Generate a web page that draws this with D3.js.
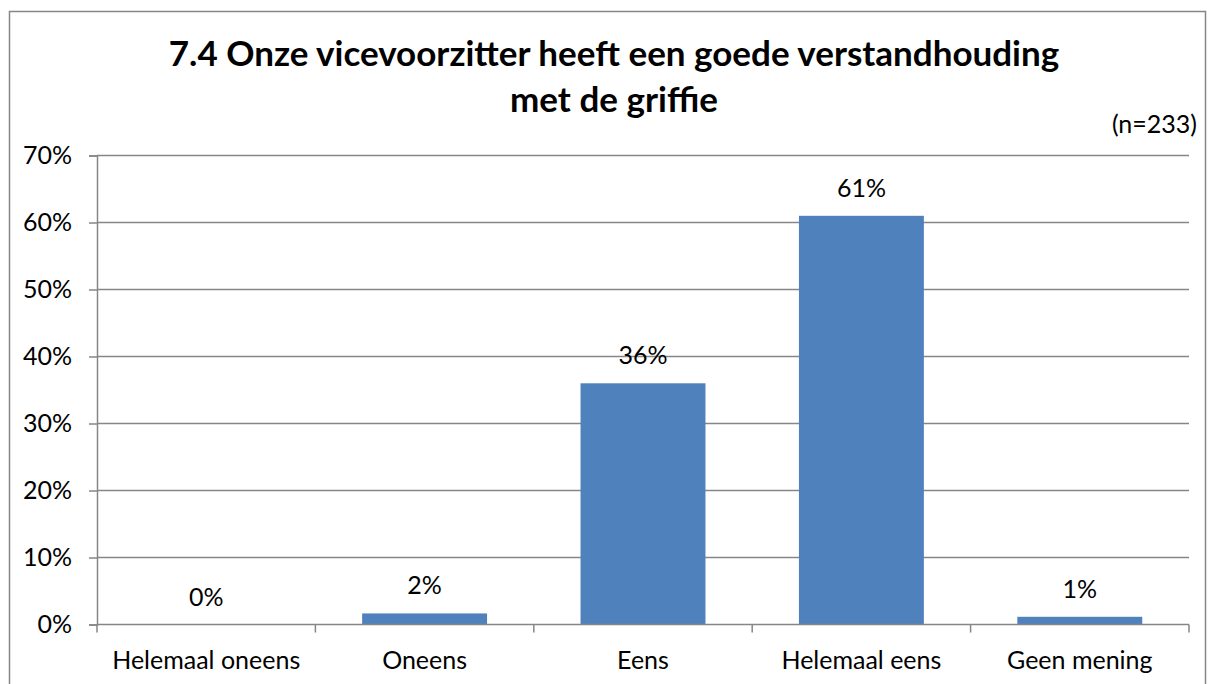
<!DOCTYPE html>
<html>
<head>
<meta charset="utf-8">
<script src="https://cdn.jsdelivr.net/npm/d3@7"></script>
<style>
  body { margin: 0; background: #fff; }
  text { font-family: Lato, "Open Sans", sans-serif; fill: #000; }
</style>
</head>
<body>
<svg width="1215" height="684"></svg>
<script>
// data
var categories = ['Helemaal oneens', 'Oneens', 'Eens', 'Helemaal eens', 'Geen mening'];
var values = [0, 0.0165, 0.36, 0.61, 0.0115];
var valueLabels = ['0%', '2%', '36%', '61%', '1%'];
var yTicks = [0, 0.1, 0.2, 0.3, 0.4, 0.5, 0.6, 0.7];
var titleLines = ['7.4 Onze vicevoorzitter heeft een goede verstandhouding', 'met de griffie'];
var note = '(n=233)';

var svg = d3.select('svg');
var plotL = 97, plotR = 1189, plotT = 155.5, plotB = 624.5;

// chart border
svg.append('rect').attr('x', 9.5).attr('y', 11.5).attr('width', 1196).attr('height', 690)
  .attr('fill', 'none').attr('stroke', '#868686').attr('stroke-width', 1.5);

var x = d3.scaleBand().domain(categories).range([plotL, plotR])
  .paddingInner(0.428).paddingOuter(0.214);
var xb = d3.scaleBand().domain(categories).range([plotL, plotR]).padding(0);
var y = d3.scaleLinear().domain([0, 0.7]).range([plotB, plotT]);

// gridlines
svg.append('g').selectAll('line').data(yTicks.slice(1)).join('line')
  .attr('x1', plotL).attr('x2', plotR)
  .attr('y1', function (d) { return y(d); }).attr('y2', function (d) { return y(d); })
  .attr('stroke', '#868686').attr('stroke-width', 1.5);

// bars
svg.append('g').selectAll('rect').data(values).join('rect')
  .attr('x', function (d, i) { return x(categories[i]); })
  .attr('y', function (d) { return y(d); })
  .attr('width', x.bandwidth())
  .attr('height', function (d) { return plotB - y(d); })
  .attr('fill', '#4F81BD');

// value labels
svg.append('g').selectAll('text').data(values).join('text')
  .attr('x', function (d, i) { return x(categories[i]) + x.bandwidth() / 2; })
  .attr('y', function (d) { return y(d) - 19; })
  .attr('text-anchor', 'middle').style('font-size', '25px')
  .text(function (d, i) { return valueLabels[i]; });

// y axis
var yAxis = d3.axisLeft(y).tickValues(yTicks).tickFormat(d3.format('.0%')).tickSize(8).tickPadding(17);
var gy = svg.append('g').attr('transform', 'translate(' + plotL + ',0)').call(yAxis);
gy.selectAll('path, line').attr('stroke', '#868686').attr('stroke-width', 1.5);
gy.selectAll('text').style('font-size', '25px').style('font-family', 'Lato, sans-serif').attr('fill', '#000');

// x axis with ticks on band edges
var gx = svg.append('g');
gx.append('line').attr('x1', plotL).attr('x2', plotR).attr('y1', plotB).attr('y2', plotB)
  .attr('stroke', '#868686').attr('stroke-width', 1.5);
var edges = categories.map(function (c) { return xb(c); }).concat([plotR]);
gx.selectAll('line.tk').data(edges).join('line').attr('class', 'tk')
  .attr('x1', function (d) { return d; }).attr('x2', function (d) { return d; })
  .attr('y1', plotB).attr('y2', plotB + 8)
  .attr('stroke', '#868686').attr('stroke-width', 1.5);
gx.selectAll('text').data(categories).join('text')
  .attr('x', function (d) { return xb(d) + xb.bandwidth() / 2; })
  .attr('y', 669).attr('text-anchor', 'middle').style('font-size', '25px')
  .text(function (d) { return d; });

// title
svg.append('g').selectAll('text').data(titleLines).join('text')
  .attr('x', 614).attr('y', function (d, i) { return 66 + i * 46; })
  .attr('text-anchor', 'middle').style('font-size', '35px').style('font-weight', 'bold')
  .text(function (d) { return d; });

svg.append('text').attr('x', 1197).attr('y', 133).attr('text-anchor', 'end')
  .style('font-size', '25px').text(note);
</script>
</body>
</html>
